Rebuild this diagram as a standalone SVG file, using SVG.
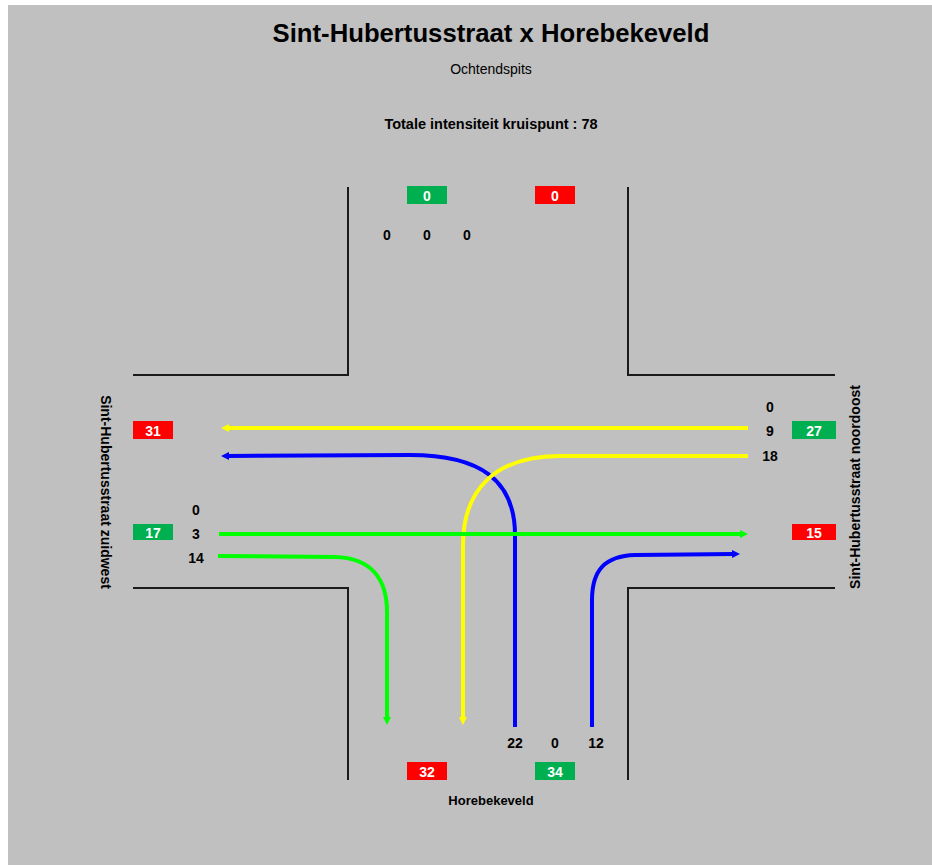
<svg xmlns="http://www.w3.org/2000/svg" width="932" height="865" viewBox="0 0 932 865">
<style>
text{font-family:"Liberation Sans",Arial,sans-serif;}
.road{stroke:#1a1a1a;stroke-width:2;fill:none;}
.num{font-size:14px;font-weight:bold;fill:#000;text-anchor:middle;}
.bt{font-size:14px;font-weight:bold;fill:#fff;text-anchor:middle;}
.g{fill:#00b050;}
.r{fill:#ff0000;}
.flow{fill:none;stroke-width:4;}
</style>
<defs>
<marker id="ay" viewBox="0 0 8 8" refX="2" refY="4" markerWidth="8" markerHeight="8" markerUnits="userSpaceOnUse" orient="auto"><path d="M0,0 L8,4 L0,8 z" fill="#ffff00"/></marker>
<marker id="ab" viewBox="0 0 8 8" refX="2" refY="4" markerWidth="8" markerHeight="8" markerUnits="userSpaceOnUse" orient="auto"><path d="M0,0 L8,4 L0,8 z" fill="#0000ff"/></marker>
<marker id="ag" viewBox="0 0 8 8" refX="2" refY="4" markerWidth="8" markerHeight="8" markerUnits="userSpaceOnUse" orient="auto"><path d="M0,0 L8,4 L0,8 z" fill="#00ff00"/></marker>
</defs>
<rect x="0" y="0" width="932" height="865" fill="#ffffff"/>
<rect x="8" y="5" width="924" height="860" fill="#c0c0c0"/>

<g id="titles">
<text x="491" y="42" style="font-size:25.7px;font-weight:bold;" text-anchor="middle">Sint-Hubertusstraat x Horebekeveld</text>
<text x="491" y="74" style="font-size:14px;" text-anchor="middle">Ochtendspits</text>
<text x="491" y="129" style="font-size:14.5px;font-weight:bold;" text-anchor="middle">Totale intensiteit kruispunt : 78</text>
</g>

<g id="roads">
<path class="road" d="M348,187 V375 H133"/>
<path class="road" d="M628,187 V375 H835"/>
<path class="road" d="M133,588 H348 V780"/>
<path class="road" d="M835,588 H628 V780"/>
</g>

<g id="connectors">
<path class="flow" stroke="#ffff00" d="M748,428 L227,428" marker-end="url(#ay)"/>
<path class="flow" stroke="#0000ff" d="M515,727 L515,535 C515,480 480,455 410,455 L227,456" marker-end="url(#ab)"/>
<path class="flow" stroke="#ffff00" d="M748,456 L560,456 C495,456 463,490 463,545 L463,719" marker-end="url(#ay)"/>
<path class="flow" stroke="#00ff00" d="M219,534 L742,534" marker-end="url(#ag)"/>
<path class="flow" stroke="#00ff00" d="M218,556 L335,557 C372,558 387,580 387,612 L387,719" marker-end="url(#ag)"/>
<path class="flow" stroke="#0000ff" d="M592,727 L592,600 C592,570 605,556 635,555 L734,554" marker-end="url(#ab)"/>
</g>

<g id="north">
<rect class="g" x="407" y="186" width="40" height="18"/>
<text class="bt" x="427" y="201">0</text>
<rect class="r" x="535" y="186" width="40" height="18"/>
<text class="bt" x="555" y="201">0</text>
<text class="num" x="387" y="240">0</text>
<text class="num" x="427" y="240">0</text>
<text class="num" x="467" y="240">0</text>
</g>

<g id="west">
<text x="101" y="492" transform="rotate(90 101 492)" style="font-size:14px;font-weight:bold;" text-anchor="middle">Sint-Hubertusstraat zuidwest</text>
<rect class="r" x="133" y="421" width="40" height="18"/>
<text class="bt" x="153" y="436">31</text>
<rect class="g" x="133" y="524" width="40" height="16"/>
<text class="bt" x="153" y="538">17</text>
<text class="num" x="196" y="515">0</text>
<text class="num" x="196" y="539">3</text>
<text class="num" x="196" y="563">14</text>
</g>

<g id="east">
<text x="860" y="487" transform="rotate(-90 860 487)" style="font-size:14px;font-weight:bold;" text-anchor="middle">Sint-Hubertusstraat noordoost</text>
<rect class="g" x="792" y="421" width="44" height="18"/>
<text class="bt" x="814" y="436">27</text>
<rect class="r" x="792" y="524" width="44" height="16"/>
<text class="bt" x="814" y="538">15</text>
<text class="num" x="770" y="412">0</text>
<text class="num" x="770" y="436">9</text>
<text class="num" x="770" y="461">18</text>
</g>

<g id="south">
<text class="num" x="515" y="748">22</text>
<text class="num" x="555" y="748">0</text>
<text class="num" x="596" y="748">12</text>
<rect class="r" x="407" y="762" width="40" height="18"/>
<text class="bt" x="427" y="777">32</text>
<rect class="g" x="535" y="762" width="40" height="18"/>
<text class="bt" x="555" y="777">34</text>
<text x="491" y="805" style="font-size:13px;font-weight:bold;" text-anchor="middle">Horebekeveld</text>
</g>
</svg>
